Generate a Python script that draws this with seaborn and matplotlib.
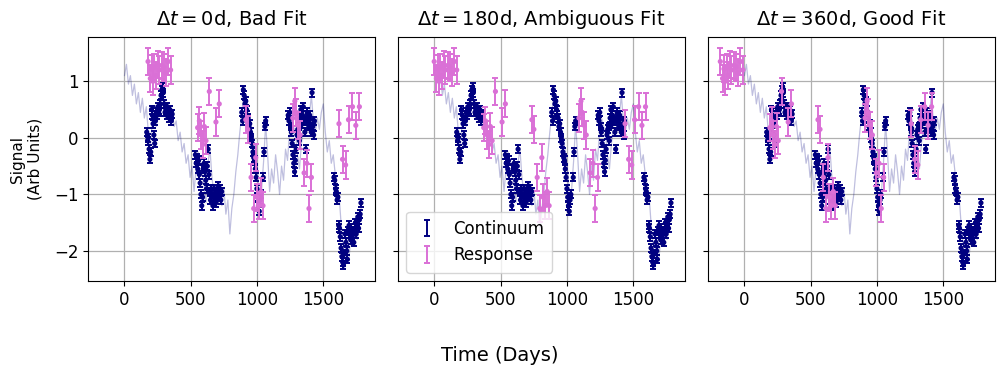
import matplotlib
matplotlib.use("Agg")
import matplotlib.pyplot as plt
import numpy as np
import seaborn as sns

# underlying (true) continuum curve
LINE_T = np.arange(0, 1786, 15)
LINE_V = [
    1.10, 1.30, 0.95, 1.10, 0.75, 0.95, 0.60, 0.80, 0.45, 0.70, 0.35, 0.55,
    0.10, -0.20, 0.30, 0.40, 0.20, 0.55, 0.50, 0.85, 0.65, 0.45, 0.55, 0.35,
    0.45, 0.20, 0.30, -0.05, 0.10, -0.25, -0.10, -0.45, -0.30, -0.70, -0.50, -0.95,
    -0.55, -0.25, -0.40, -0.55, -0.85, -1.15, -0.45, -0.20, -0.70, -1.00, -0.90, -1.10,
    -0.95, -1.20, -0.90, -1.35, -1.10, -1.70, -1.25, -1.00, -0.60, -0.30, 0.10, 0.40,
    0.85, 0.60, 0.45, 0.30, 0.15, -0.05, -0.30, -0.60, -1.10, -0.90, -0.40, 0.25,
    -0.30, -0.95, -0.55, -0.80, -0.30, -0.60, -1.00, -0.50, -0.75, -0.20, -0.40, 0.10,
    0.35, 0.20, 0.10, -0.30, -0.55, -0.10, 0.20, 0.45, 0.25, 0.40, 0.75, 0.30,
    0.10, 0.35, 0.15, 0.45, 0.60, 0.10, -0.25, -0.05, -0.45, -0.30, -0.65, -0.85,
    -1.05, -1.55, -1.90, -2.15, -1.80, -2.10, -1.65, -1.75, -1.55, -1.80, -1.50, -1.25,
]

# observed continuum
CONT_T = [
    168, 174, 180, 186, 192, 198, 204, 210, 216, 222, 228, 234, 240, 246, 252, 258, 264,
    270, 276, 282, 288, 294, 300, 306, 312, 318, 324, 330, 336, 342, 348, 354, 360,
    535, 541, 547, 553, 559, 565, 571, 577, 583, 589, 595, 601, 607, 613, 619, 625, 631,
    637, 643, 649, 655, 661, 667, 673, 679, 685, 691, 697, 703, 709, 715, 721, 727, 733,
    885, 891, 897, 903, 909, 915, 921, 927, 933, 939, 945, 951, 957, 963, 969, 975, 981,
    987, 993, 999, 1005, 1011, 1017, 1023, 1029, 1047, 1053, 1059, 1065,
    1235, 1241, 1247, 1253, 1259, 1265, 1271, 1277, 1283, 1289, 1295, 1301, 1307, 1313,
    1319, 1325, 1331, 1337, 1343, 1349, 1355, 1361, 1367, 1373, 1379, 1385, 1391, 1397,
    1403, 1409, 1415, 1421, 1427, 1433,
    1580, 1586, 1592, 1598, 1604, 1610, 1616, 1622, 1628, 1634, 1640, 1646, 1652, 1658,
    1664, 1670, 1676, 1682, 1688, 1694, 1700, 1706, 1712, 1718, 1724, 1730, 1736, 1742,
    1748, 1754, 1760, 1766, 1772, 1778, 1784,
]
CONT_V = [
    0.10, -0.05, 0.00, -0.20, -0.38, -0.25, 0.50, 0.40, 0.25, 0.05, -0.10, 0.30, 0.45,
    0.40, 0.55, 0.45, 0.50, 0.60, 0.75, 0.85, 0.90, 0.80, 0.60, 0.45, 0.50, 0.40, 0.55,
    0.45, 0.35, 0.50, 0.40, 0.30, 0.42,
    -0.30, -0.45, -0.35, -0.55, -0.40, -0.65, -0.80, -1.00, -1.20, -1.05, -0.55, -0.45,
    -0.60, -0.75, -0.90, -0.50, -0.20, -0.65, -0.95, -1.10, -0.90, -1.00, -1.20, -1.05,
    -0.90, -1.00, -1.15, -0.95, -1.05, -0.85, -1.00, -0.90, -1.10, -0.95,
    0.45, 0.30, 0.85, 0.75, 0.60, 0.65, 0.50, 0.40, 0.35, 0.20, 0.25, 0.10, 0.00, -0.10,
    -0.25, -0.35, -0.40, -0.55, -0.70, -0.90, -1.05, -1.20, -1.30, -1.10, -1.00, -0.70,
    -0.25, 0.20, 0.30,
    0.40, 0.30, 0.45, 0.20, 0.10, -0.10, -0.30, -0.45, -0.60, -0.40, -0.20, 0.05, 0.15,
    0.20, -0.05, 0.35, 0.50, 0.25, 0.40, 0.55, 0.30, 0.10, -0.20, 0.30, 0.45, 0.35, 0.20,
    0.40, 0.25, 0.10, 0.80, 0.20, 0.05, 0.30,
    -0.70, -0.75, -0.90, -0.95, -1.10, -1.05, -1.55, -1.60, -1.75, -1.95, -2.10, -2.20,
    -2.25, -2.05, -1.70, -1.85, -2.00, -2.15, -1.65, -1.55, -1.70, -1.80, -1.60, -1.75,
    -1.65, -1.85, -1.60, -1.50, -1.70, -1.55, -1.40, -1.60, -1.45, -1.35, -1.15,
]
CONT_ERR = 0.07

# observed response (un-shifted times)
RESP_T = [
    178, 195, 205, 215, 225, 238, 250, 262, 280, 295, 310, 330, 348,
    552, 565, 578, 590, 602, 615, 640, 690, 715,
    915, 930, 955, 975, 990, 1000, 1015, 1030, 1045,
    1270, 1285, 1295, 1310, 1325, 1355, 1375, 1392, 1410,
    1618, 1645, 1668, 1690, 1720, 1745, 1772,
]
RESP_V = [
    1.35, 1.05, 1.22, 1.00, 1.25, 1.10, 1.30, 1.20, 1.28, 1.25, 1.15, 1.35, 1.20,
    0.18, 0.30, 0.05, -0.12, 0.20, -0.05, 0.82, 0.28, 0.60,
    0.32, 0.15, -0.70, -1.25, -0.35, -1.05, -1.20, -0.95, -1.20,
    0.35, 0.65, 0.45, 0.22, 0.05, -0.62, -0.45, -1.25, -0.70,
    0.25, -0.38, -0.48, 0.32, 0.55, 0.22, 0.55,
]
RESP_ERR = 0.24

LAGS = [0, 180, 360]
TITLES = [r"$\Delta t = 0$d, Bad Fit", r"$\Delta t = 180$d, Ambiguous Fit", r"$\Delta t = 360$d, Good Fit"]

CONT_COLOR = "navy"
RESP_COLOR = "orchid"

sns.set_style("ticks")
plt.rcParams["font.family"] = ["DejaVu Sans"]
plt.rcParams.update({"text.color": "black", "axes.labelcolor": "black",
                     "xtick.color": "black", "ytick.color": "black"})

fig, axes = plt.subplots(1, 3, figsize=(10, 3.72), sharex=True, sharey=True)
fig.subplots_adjust(left=0.088, right=0.995, bottom=0.245, top=0.90, wspace=0.08)

cont_t = np.array(CONT_T, dtype=float)
resp_t = np.array(RESP_T, dtype=float)

for ax, lag, title in zip(axes, LAGS, TITLES):
    ax.grid(True, color="#b0b0b0", linewidth=0.9)
    ax.set_axisbelow(True)
    sns.lineplot(x=LINE_T, y=LINE_V, color=CONT_COLOR, alpha=0.25, linewidth=0.9,
                 legend=False, ax=ax)

    ax.errorbar(cont_t, CONT_V, yerr=CONT_ERR, fmt="none", ecolor=CONT_COLOR,
                elinewidth=1.4, capsize=2.5, capthick=1.4, label="Continuum", zorder=3)
    sns.scatterplot(x=cont_t, y=CONT_V, color=CONT_COLOR, s=14, edgecolor="none",
                    legend=False, ax=ax, zorder=4)

    ax.errorbar(resp_t - lag, RESP_V, yerr=RESP_ERR, fmt="none", ecolor=RESP_COLOR,
                elinewidth=1.4, capsize=2.5, capthick=1.4, label="Response", zorder=5)
    sns.scatterplot(x=resp_t - lag, y=RESP_V, color=RESP_COLOR, s=14, edgecolor="none",
                    legend=False, ax=ax, zorder=6)

    ax.set_title(title, fontsize=14, pad=9)
    ax.set_xlim(-275, 1890)
    ax.set_ylim(-2.53, 1.78)
    ax.set_xticks([0, 500, 1000, 1500])
    ax.set_yticks([-2, -1, 0, 1])
    ax.tick_params(labelsize=12)
    for sp in ax.spines.values():
        sp.set_color("black")
    if ax.get_legend() is not None:
        ax.get_legend().remove()

axes[0].set_ylabel("Signal\n(Arb Units)", fontsize=11, labelpad=8)
axes[1].legend(loc="lower left", fontsize=12, handlelength=1.5, borderpad=0.5)
fig.supxlabel("Time (Days)", fontsize=14, y=0.02)

fig.savefig("out.png", dpi=100)
